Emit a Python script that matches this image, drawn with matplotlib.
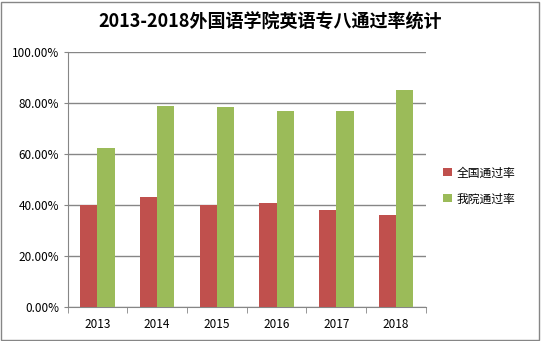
import matplotlib
matplotlib.use("Agg")
import matplotlib.pyplot as plt
import numpy as np
from matplotlib.ticker import FuncFormatter, FixedLocator
from matplotlib.patches import Rectangle

plt.rcParams['font.family'] = ['Noto Sans CJK SC', 'DejaVu Sans']

years = ['2013', '2014', '2015', '2016', '2017', '2018']
national = [0.40, 0.43, 0.40, 0.407, 0.379, 0.36]
college = [0.622, 0.787, 0.783, 0.767, 0.767, 0.85]
series_names = ['全国通过率', '我院通过率']
colors = ['#C0504D', '#9BBB59']

fig = plt.figure(figsize=(5.41, 3.41), dpi=100)
ax = fig.add_axes([0.125, 0.1006, 0.662, 0.7474])

x = np.arange(len(years))
w = 0.29
b1 = ax.bar(x - w/2, national, w, color=colors[0], label=series_names[0], zorder=3)
b2 = ax.bar(x + w/2, college, w, color=colors[1], label=series_names[1], zorder=3)

ax.set_xlim(-0.5, len(years) - 0.5)
ax.set_ylim(0, 1.0)
ax.set_yticks(np.arange(0, 1.01, 0.2))
ax.yaxis.set_major_formatter(FuncFormatter(lambda v, p: f"{v*100:.2f}%"))
ax.set_xticks(x)
ax.set_xticklabels(years)
ax.xaxis.set_minor_locator(FixedLocator(np.arange(-0.5, len(years), 1.0)))
ax.tick_params(axis='x', which='major', length=0, pad=8, labelsize=8.5)
ax.tick_params(axis='x', which='minor', length=4, color='#868686', direction='out')
ax.tick_params(axis='y', length=3, color='#868686', labelsize=8.5, pad=3)
ax.grid(axis='y', color='#868686', linewidth=1, zorder=0)
for s in ['top', 'right']:
    ax.spines[s].set_visible(False)
for s in ['left', 'bottom']:
    ax.spines[s].set_color('#868686')

fig.text(0.5, 0.935, '2013-2018外国语学院英语专八通过率统计', ha='center', va='center',
         fontsize=13, fontweight='bold')

leg = fig.legend(handles=[b1, b2], labels=series_names, loc='center left',
                 bbox_to_anchor=(0.80, 0.455), frameon=False, fontsize=8.5,
                 handlelength=0.7, handleheight=0.7, handletextpad=0.4, labelspacing=1.1)

fig.patches.append(Rectangle((0.002, 0.003), 0.994, 0.992, transform=fig.transFigure,
                             fill=False, edgecolor='#868686', linewidth=1))

fig.savefig('out.png', dpi=100)
